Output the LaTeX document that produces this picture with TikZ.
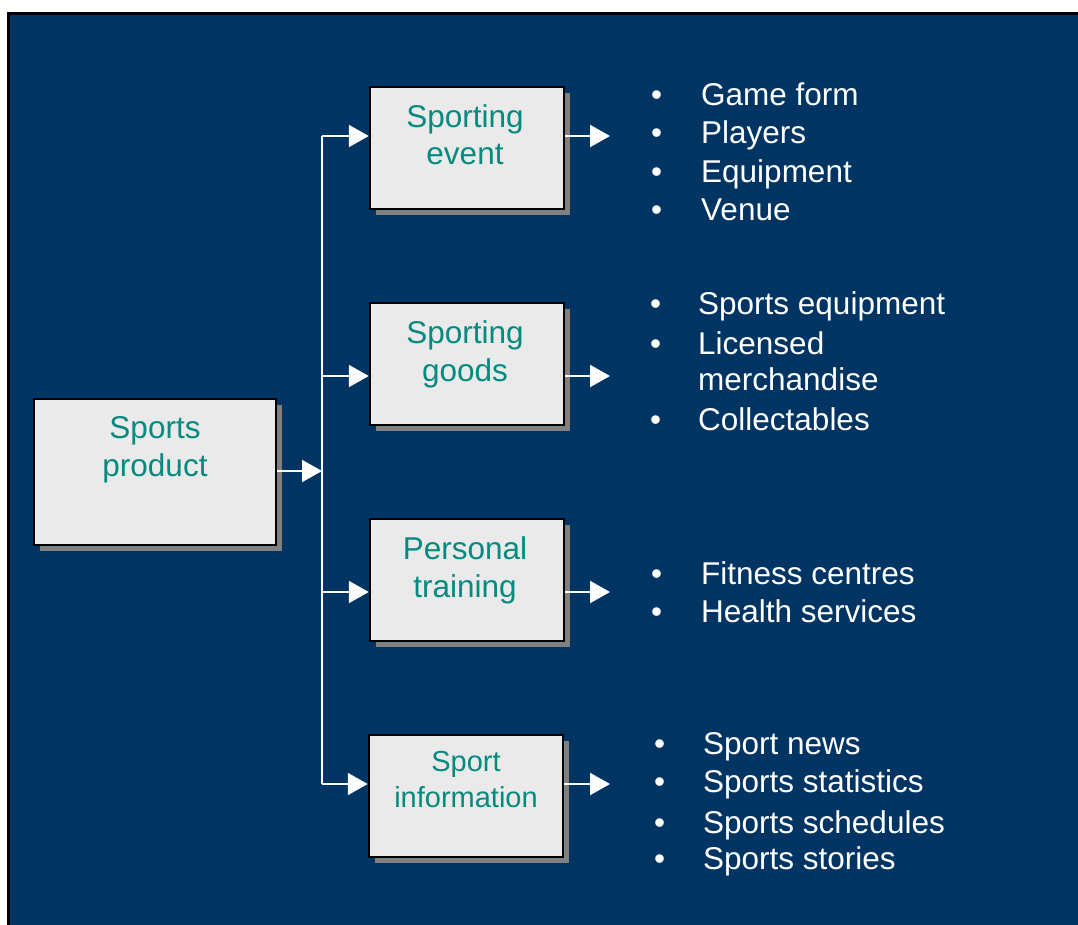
\documentclass[tikz,border=0pt]{standalone}
\usepackage{fontspec}
\setmainfont{Liberation Sans}
\usetikzlibrary{arrows.meta,shadows}
\definecolor{bgblue}{HTML}{003463}
\definecolor{boxfill}{HTML}{EAEAEA}
\definecolor{teal1}{HTML}{058A80}
\definecolor{shadowgray}{HTML}{808080}
\tikzset{
  box/.style={draw=black, line width=2.5pt, fill=boxfill, inner sep=0pt,
    minimum width=194pt, minimum height=122pt,
    drop shadow={shadow xshift=6pt, shadow yshift=-6pt, fill=shadowgray, opacity=1}},
  boxtext/.style={text=teal1, font=\fontsize{31.5}{36}\selectfont, anchor=base, inner sep=0pt},
  smalltext/.style={text=teal1, font=\fontsize{29}{34}\selectfont, anchor=base, inner sep=0pt},
  item/.style={text=white, font=\fontsize{31.5}{36}\selectfont, anchor=base west, inner sep=0pt},
  conn/.style={draw=white, line width=2pt},
  arr/.style={conn, -{Triangle[length=20pt, width=22pt]}},
}
\begin{document}
\begin{tikzpicture}[x=1pt,y=-1pt]
\useasboundingbox (0,0) rectangle (1078,924);
\fill[bgblue] (8,13) rectangle (1078,925);
\draw[line width=3pt] (8,925) -- (8,13) -- (1078,13);

% boxes
\node[box, minimum width=242pt, minimum height=146pt] (prod) at (155,472) {};
\node[box] (ev) at (467,148) {};
\node[box] (gd) at (467,364) {};
\node[box] (tr) at (467,580) {};
\node[box] (inf) at (466,796) {};

% box texts
\node[boxtext] (prodA) at (155,438) {Sports};
\node[boxtext] (prodB) at (155,476) {product};
\node[boxtext] (evA) at (465,127) {Sporting};
\node[boxtext] (evB) at (465,164) {event};
\node[boxtext] (gdA) at (465,343) {Sporting};
\node[boxtext] (gdB) at (465,381) {goods};
\node[boxtext] (trA) at (465,559) {Personal};
\node[boxtext] (trB) at (465,597) {training};
\node[smalltext] (infA) at (466,771) {Sport};
\node[smalltext] (infB) at (466,807) {information};

% connectors
\coordinate (sp) at (322,471);
\coordinate (b1) at (322,136);
\coordinate (b2) at (322,376);
\coordinate (b3) at (322,592);
\coordinate (b4) at (322,784);
\coordinate (o1) at (610,136);
\coordinate (o2) at (610,376);
\coordinate (o3) at (610,592);
\coordinate (o4) at (610,784);
\draw[conn] (b1) -- (b4);
\draw[arr] (sp -| prod.east) -- (sp);
\draw[arr] (b1) -- (b1 -| ev.west);
\draw[arr] (b2) -- (b2 -| gd.west);
\draw[arr] (b3) -- (b3 -| tr.west);
\draw[arr] (b4) -- (b4 -| inf.west);
\draw[arr] (b1 -| ev.east) -- (o1);
\draw[arr] (b2 -| gd.east) -- (o2);
\draw[arr] (b3 -| tr.east) -- (o3);
\draw[arr] (b4 -| inf.east) -- (o4);

% bullet lists
\foreach \y/\t [count=\i] in {105/Game form,143/Players,182/Equipment,220/Venue}{
  \node[item] (e\i) at (701,\y) {\t};
  \node[item] (eb\i) at (651,\y) {•};
}
\node[item] (g1) at (698,314) {Sports equipment};
\node[item] (gb1) at (650,314) {•};
\node[item] (g2) at (698,354) {Licensed};
\node[item] (gb2) at (650,354) {•};
\node[item] (g3) at (698,390) {merchandise};
\node[item] (g4) at (698,430) {Collectables};
\node[item] (gb4) at (650,430) {•};
\foreach \y/\t [count=\i] in {584/Fitness centres,622/Health services}{
  \node[item] (t\i) at (701,\y) {\t};
  \node[item] (tb\i) at (651,\y) {•};
}
\foreach \y/\t [count=\i] in {754/Sport news,792/Sports statistics,833/Sports schedules,869/Sports stories}{
  \node[item] (n\i) at (703,\y) {\t};
  \node[item] (nb\i) at (654,\y) {•};
}
\end{tikzpicture}
\end{document}
